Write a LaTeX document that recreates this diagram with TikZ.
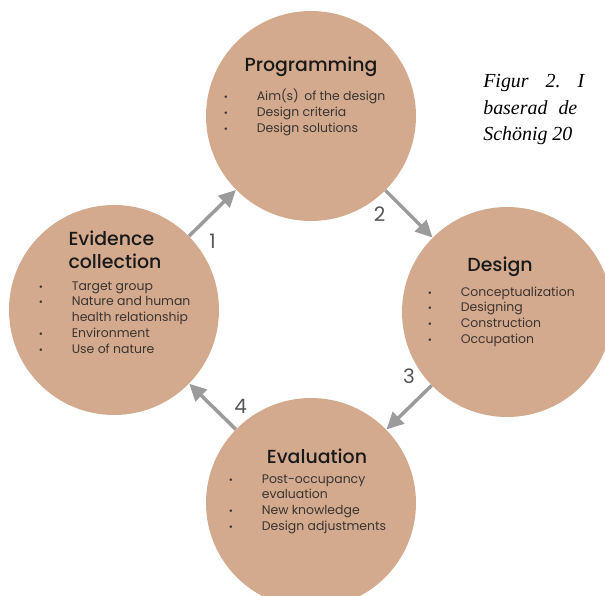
\documentclass[tikz,border=0pt]{standalone}
\usepackage{fontspec}
\setmainfont{Poppins}[BoldFont={Poppins Medium}]
\newfontfamily\capfont{Liberation Serif}
\usepackage{xcolor}
\usepackage{tikz}
\usetikzlibrary{arrows.meta}
\usetikzlibrary{calc}
\usetikzlibrary{positioning}

\definecolor{phasefill}{RGB}{211,170,142}
\definecolor{arrgray}{RGB}{155,155,155}
\definecolor{numgray}{RGB}{85,85,85}
\definecolor{listtxt}{RGB}{60,52,48}

\newcommand{\blt}{{\fontsize{10}{10}\selectfont\textbullet}}
\newenvironment{phaselist}{\fontsize{12.5}{16}\selectfont\begin{tabular}[t]{@{}p{33bp}@{}l@{}}}{\end{tabular}}

\begin{document}
\begin{tikzpicture}[x=1bp,y=-1bp,on grid,semithick]
        \tikzstyle{phase}=[circle, fill=phasefill, minimum size=210bp, inner sep=0pt]
        \tikzstyle{ttl}=[font=\fontsize{19}{23}\selectfont\bfseries, text=black!90, align=left, inner sep=0pt]
        \tikzstyle{list}=[anchor=base west, text=listtxt, inner sep=0pt]
        \tikzstyle{flow}=[-{Triangle[length=17bp,width=16bp]}, draw=arrgray, line width=3.5bp]
        \tikzstyle{num}=[font=\fontsize{20}{20}\selectfont, text=numgray, inner sep=0pt]
        \useasboundingbox (0,0) rectangle (605,596);

        % the four phases
        \node[phase]          (prog) at (311,116)                     {};
        \node[phase]          (evid)   [below left=194bp and 197bp of prog]  {};
        \node[phase]          (desg)   [below right=196bp and 196bp of prog] {};
        \node[phase]          (eval)   [below=387bp of prog]          {};

        % titles
        \node[ttl]            (progT)  [above=49bp of prog]                 {Programming};
        \node[ttl]            (evidT)  [above right=60bp and 1bp of evid]   {Evidence\\collection};
        \node[ttl]            (desgT)  [above left=45bp and 7bp of desg]    {Design};
        \node[ttl]            (evalT)  [above right=47bp and 6bp of eval]   {Evaluation};

        % bullet lists
        \node[list] (progL) at ($(prog)+(-87.5,-15)$) {\begin{phaselist}
            \blt & Aim(s)\, of the design\\
            \blt & Design criteria\\
            \blt & Design solutions
          \end{phaselist}};
        \node[list] (evidL) at ($(evid)+(-75.5,-20)$) {\begin{phaselist}
            \blt & Target group\\
            \blt & Nature and human\\
                 & health relationship\\
            \blt & Environment\\
            \blt & Use of nature
          \end{phaselist}};
        \node[list] (desgL) at ($(desg)+(-79.5,-16)$) {\begin{phaselist}
            \blt & Conceptualization\\
            \blt & Designing\\
            \blt & Construction\\
            \blt & Occupation
          \end{phaselist}};
        \node[list] (evalL) at ($(eval)+(-82.5,-20)$) {\begin{phaselist}
            \blt & Post-occupancy\\
                 & evaluation\\
            \blt & New knowledge\\
            \blt & Design adjustments
          \end{phaselist}};

        % cycle
        \path
              (evid) edge [flow] node[num, below=19bp] {1} (prog)
              (prog) edge [flow] node[num, left=22bp]  {2} (desg)
              (desg) edge [flow] node[num, above=22bp] {3} (eval)
              (eval) edge [flow] node[num, right=20bp] {4} (evid);

        % caption, cut off by the page
        \node[anchor=base west, align=left, inner sep=0pt, font=\capfont\itshape\fontsize{20}{27}\selectfont]
              (capt) at (483,141) {Figur\hspace{17bp}2.\hspace{17bp}I\\baserad\hspace{11bp}de\\Schönig 20};
\end{tikzpicture}
\end{document}
